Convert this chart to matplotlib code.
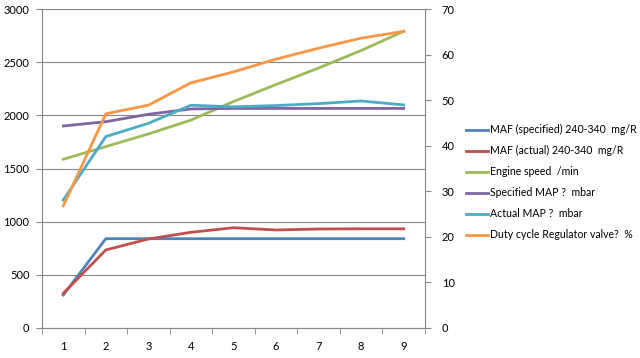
import numpy as np
import matplotlib
matplotlib.use('Agg')
import matplotlib.pyplot as plt
from matplotlib.ticker import MultipleLocator

plt.rcParams['font.family'] = ['Lato', 'DejaVu Sans']

x = np.arange(1, 10)
maf_spec = [310, 840, 840, 840, 840, 840, 840, 840, 840]
maf_act = [326, 734, 837, 900, 943, 922, 931, 933, 933]
engine_speed = [1587, 1706, 1825, 1955, 2130, 2290, 2445, 2610, 2790]
map_spec = [1900, 1940, 2010, 2060, 2065, 2065, 2065, 2065, 2065]
map_act = [1204, 1800, 1925, 2095, 2080, 2092, 2110, 2135, 2098]
duty_cycle = [26.8, 47.0, 48.9, 53.8, 56.2, 59.0, 61.4, 63.6, 65.1]

labels = ['MAF (specified) 240-340  mg/R', 'MAF (actual) 240-340  mg/R',
          'Engine speed  /min', 'Specified MAP ?  mbar', 'Actual MAP ?  mbar',
          'Duty cycle Regulator valve?  %']
colors = ['#4F81BD', '#C0504D', '#9BBB59', '#8064A2', '#4BACC6', '#F79646']

fig = plt.figure(figsize=(6.4, 3.58), dpi=100)
ax = fig.add_axes([42/640, 30/358, 383/640, 319/358])
ax2 = ax.twinx()

lines = []
for ys, c in zip([maf_spec, maf_act, engine_speed, map_spec, map_act], colors):
    l, = ax.plot(x, ys, color=c, lw=2)
    lines.append(l)
l, = ax2.plot(x, duty_cycle, color=colors[5], lw=2)
lines.append(l)

ax.set_xlim(0.5, 9.5)
ax.set_ylim(0, 3000)
ax2.set_ylim(0, 70)
ax.yaxis.set_major_locator(MultipleLocator(500))
ax2.yaxis.set_major_locator(MultipleLocator(10))
ax.set_xticks(x)
ax.set_xticks(np.arange(0.5, 10, 1), minor=True)
ax.tick_params(axis='x', which='major', length=0, pad=9)
ax.tick_params(axis='x', which='minor', length=4, color='#868686', direction='out')
ax.tick_params(axis='y', length=4, color='#868686', labelsize=8, pad=5)
ax2.tick_params(axis='y', length=4, color='#868686', labelsize=8, pad=8)
ax.tick_params(axis='x', labelsize=8)
ax.grid(axis='y', color='#868686', lw=0.8)
ax.set_axisbelow(True)
for a in (ax, ax2):
    a.spines['top'].set_visible(False)
    for s in ('left', 'right', 'bottom'):
        a.spines[s].set_color('#868686')
ax.spines['right'].set_visible(False)
ax2.spines['left'].set_visible(False)
ax2.spines['bottom'].set_visible(False)

fig.legend(lines, labels, loc='upper left', bbox_to_anchor=(462/640, 1 - 120/358),
           frameon=False, fontsize=7.6, handlelength=2.1, handletextpad=0.2,
           labelspacing=0.95, borderaxespad=0)

fig.savefig('out.png', dpi=100)
